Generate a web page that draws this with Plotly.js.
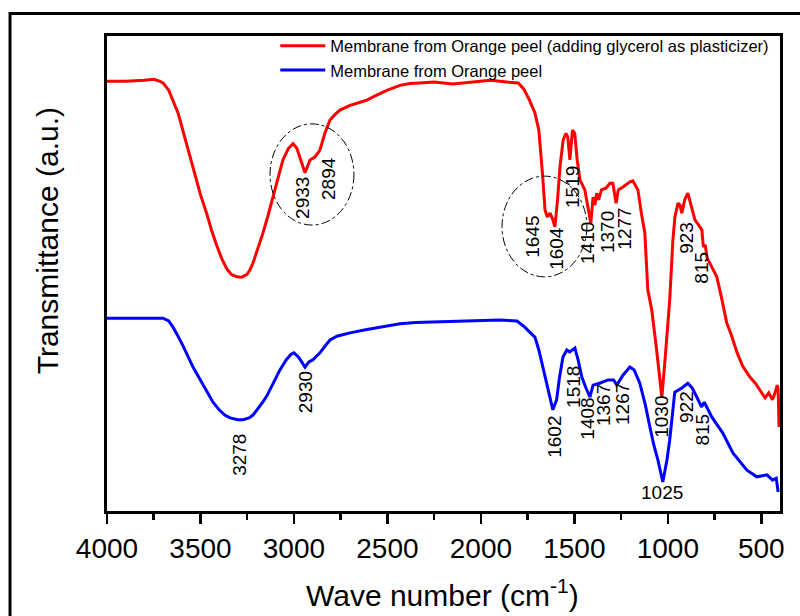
<!DOCTYPE html>
<html>
<head>
<meta charset="utf-8">
<script src="https://cdn.plot.ly/plotly-3.0.1.min.js"></script>
<style>
  html, body { margin: 0; padding: 0; background: #ffffff; }
  #chart { width: 800px; height: 616px; }
</style>
</head>
<body>
<div id="chart"></div>
<script>
// ---- Data (wavenumber in cm^-1, transmittance in arbitrary units) ----
const seriesNames = [
  "Membrane from Orange peel (adding glycerol as plasticizer)",
  "Membrane from Orange peel"
];

const redWave = [4000, 3900, 3800, 3750, 3720, 3700, 3670, 3647, 3620, 3599, 3570, 3540, 3500, 3465, 3440, 3412, 3385, 3358, 3335, 3305, 3280, 3251, 3235, 3219, 3195, 3166, 3140, 3112, 3085, 3059, 3030, 3005,
  2985, 2960, 2941, 2914, 2888, 2861, 2834, 2807, 2780, 2754, 2700, 2650, 2610, 2560, 2500, 2433, 2380, 2330, 2250, 2150, 2050, 1950, 1860, 1800, 1770, 1740, 1711,
  1690, 1670, 1657, 1645, 1630, 1615, 1604, 1590, 1577, 1560, 1545, 1535, 1524, 1510, 1498, 1485, 1470, 1444, 1425, 1412,
  1400, 1390, 1380, 1370, 1355, 1330, 1310, 1294, 1277, 1265, 1240, 1203, 1187, 1160, 1140, 1123, 1107, 1086, 1060, 1045,
  1032, 1015, 990, 973, 962, 946, 935, 925, 910, 893, 880, 855, 835, 818, 810, 800, 790, 775, 738, 710, 685, 660, 631,
  600, 561, 530, 508, 480, 460, 440, 425, 415, 410, 405];
const redTrans = [90.5, 90.5, 90.7, 90.9, 90.5, 90.1, 88.6, 86.5, 83.8, 80.8, 76.8, 72.4, 66.6, 62.4, 59.0, 55.8, 53.0, 50.9, 49.8, 49.3, 49.2, 49.8, 50.8, 52.2, 55.0, 58.5, 62.0, 66.1, 70.2, 73.9, 76.3, 77.3,
  76.4, 73.5, 71.2, 73.9, 74.5, 76.0, 79.6, 82.3, 83.5, 84.4, 85.4, 86.0, 86.5, 87.5, 88.6, 89.6, 90.0, 90.1, 90.3, 89.9, 90.3, 90.7, 90.3, 90.1, 88.8, 86.5, 83.8,
  80.2, 70.7, 63.4, 61.9, 62.7, 61.3, 59.8, 65.5, 72.4, 78.1, 79.5, 78.7, 73.9, 80.2, 79.5, 73.9, 69.7, 67.6, 63.4, 60.6,
  66.1, 64.4, 66.9, 65.5, 67.6, 68.0, 69.0, 69.0, 64.8, 67.6, 68.2, 69.3, 69.5, 67.6, 62.3, 58.5, 46.5, 42.3, 33.9, 28.6,
  24.0, 31.8, 44.4, 57.0, 61.9, 64.8, 64.4, 62.7, 65.5, 66.9, 64.8, 61.3, 60.2, 59.2, 55.6, 56.0, 53.3, 52.2, 49.3, 44.4, 39.6, 37.0, 33.5,
  30.5, 28.2, 26.8, 25.5, 23.8, 24.9, 23.4, 25.1, 26.5, 25.5, 17.7];

const blueWave = [4000, 3850, 3700, 3670, 3647, 3620, 3590, 3540, 3480, 3433, 3400, 3370, 3342, 3300, 3272, 3240, 3219, 3190, 3165, 3144, 3110, 3075, 3040, 3015, 3000,
  2975, 2941, 2920, 2900, 2861, 2830, 2807, 2770, 2700, 2610, 2500, 2433, 2350, 2250, 2100, 1989, 1900, 1807, 1765, 1735, 1711, 1690,
  1668, 1640, 1615, 1595, 1580, 1561, 1540, 1525, 1497, 1480, 1460, 1440, 1417, 1400, 1365, 1320, 1290, 1273, 1240, 1203,
  1180, 1150, 1120, 1096, 1075, 1053, 1027, 1005, 990, 963, 925, 893, 870, 845, 820, 805, 780, 765, 706, 652, 577, 524,
  470, 440, 420, 410];
const blueTrans = [40.6, 40.6, 40.6, 40.0, 38.7, 36.8, 34.5, 30.3, 26.1, 22.9, 21.3, 20.2, 19.6, 19.2, 19.2, 19.6, 20.2, 21.6, 23.0, 24.3, 27.0, 29.7, 31.9, 33.0, 33.3,
  32.4, 30.3, 31.4, 31.8, 33.3, 34.9, 36.0, 36.8, 37.5, 38.2, 38.9, 39.4, 39.7, 39.8, 40.0, 40.2, 40.2, 40.0, 38.7, 37.5, 36.6, 33.9,
  30.3, 25.5, 21.3, 23.4, 28.0, 32.4, 33.9, 33.5, 34.3, 31.8, 28.2, 26.1, 24.0, 26.5, 26.9, 27.6, 27.6, 26.5, 28.6, 30.3,
  29.7, 26.9, 22.3, 17.7, 13.9, 10.7, 6.1, 10.7, 14.9, 25.0, 25.9, 26.9, 25.9, 24.0, 21.9, 22.9, 20.8, 19.8, 16.4, 12.2, 8.6, 7.2,
  7.6, 6.5, 6.9, 4.0];

const tickValues = [4000, 3500, 3000, 2500, 2000, 1500, 1000, 500];
const tickLabels = ["4000", "3500", "3000", "2500", "2000", "1500", "1000", "500"];

const redPeakLabels = ["2933", "2894", "1645", "1604", "1519", "1410", "1370", "1277", "1030", "923", "815"];
const bluePeakLabels = ["3278", "2930", "1602", "1518", "1408", "1367", "1267", "1025", "922", "815"];

// ---- Label placement (layout only) ----
const redLabelPos = [[2952, 65.9], [2818, 70.1], [1722, 57.7], [1593, 55.4], [1513, 68.2], [1433, 56.4],
  [1326, 58.7], [1230, 59.4], [1032, 19.8], [898, 57.5], [818, 51.2]];
const blueLabelPos = [[3289, 11.8], [2941, 25.0], [1604, 15.6], [1508, 26.1], [1428, 19.4], [1347, 22.3],
  [1246, 22.5], [1032, 3.8], [898, 21.9], [813, 17.1]];
const horizontalLabels = {"1025": true};

const FONT = "Arial, 'Liberation Sans', sans-serif";

const annotations = [];
function addLabels(labels, pos) {
  labels.forEach((t, i) => {
    annotations.push({
      x: pos[i][0], y: pos[i][1], xref: "x", yref: "y",
      text: t, showarrow: false,
      textangle: horizontalLabels[t] && pos[i][1] < 10 ? 0 : -90,
      xanchor: "center", yanchor: "middle",
      font: {family: FONT, size: 19, color: "#000"}
    });
  });
}
addLabels(redPeakLabels, redLabelPos);
addLabels(bluePeakLabels, blueLabelPos);

annotations.push({
  xref: "paper", yref: "paper", x: 0.498, y: -0.172,
  text: "Wave number (cm<sup>-1</sup>)", showarrow: false,
  xanchor: "center", yanchor: "middle",
  font: {family: FONT, size: 30, color: "#000"}
});
annotations.push({
  xref: "paper", yref: "paper", x: -0.089, y: 0.568,
  text: "Transmittance (a.u.)", showarrow: false, textangle: -90,
  xanchor: "center", yanchor: "middle",
  font: {family: FONT, size: 30, color: "#000"}
});

const traces = [
  {x: redWave, y: redTrans, type: "scatter", mode: "lines", name: seriesNames[0],
   line: {color: "#ff0000", width: 3}},
  {x: blueWave, y: blueTrans, type: "scatter", mode: "lines", name: seriesNames[1],
   line: {color: "#0000ff", width: 3}}
];

const layout = {
  width: 800, height: 616,
  margin: {l: 107, r: 20, t: 36, b: 105, pad: 0},
  paper_bgcolor: "#ffffff", plot_bgcolor: "#ffffff",
  showlegend: true,
  legend: {
    x: 0.250, y: 1.016, xanchor: "left", yanchor: "top",
    bgcolor: "rgba(0,0,0,0)", borderwidth: 0,
    font: {family: FONT, size: 16.5, color: "#000"},
    itemwidth: 45, tracegroupgap: 0
  },
  xaxis: {
    range: [4000, 400], tickmode: "array", tickvals: tickValues, ticktext: tickLabels,
    ticks: "outside", ticklen: 10, tickwidth: 2.5, tickcolor: "#000",
    minor: {dtick: 250, tick0: 0, ticks: "outside", ticklen: 6, tickwidth: 2.5, tickcolor: "#000", showgrid: false},
    showline: true, linewidth: 3, linecolor: "#000", mirror: true,
    showgrid: false, zeroline: false,
    tickfont: {family: FONT, size: 28, color: "#000"}
  },
  yaxis: {
    range: [0, 100], showticklabels: false, ticks: "",
    showline: true, linewidth: 3, linecolor: "#000", mirror: true,
    showgrid: false, zeroline: false
  },
  shapes: [
    {type: "rect", xref: "paper", yref: "paper", x0: -0.1441, x1: 1.2, y0: -0.4, y1: 1.0474,
     line: {color: "#000", width: 3}, fillcolor: "rgba(0,0,0,0)", layer: "below"},
    {type: "circle", xref: "x", yref: "y", x0: 3128, x1: 2679, y0: 60.2, y1: 81.5,
     line: {color: "#000", width: 1, dash: "dashdot"}},
    {type: "circle", xref: "x", yref: "y", x0: 1887, x1: 1433, y0: 49.3, y1: 70.5,
     line: {color: "#000", width: 1, dash: "dashdot"}}
  ],
  annotations: annotations
};

Plotly.newPlot("chart", traces, layout, {displayModeBar: false, staticPlot: true});
</script>
</body>
</html>
